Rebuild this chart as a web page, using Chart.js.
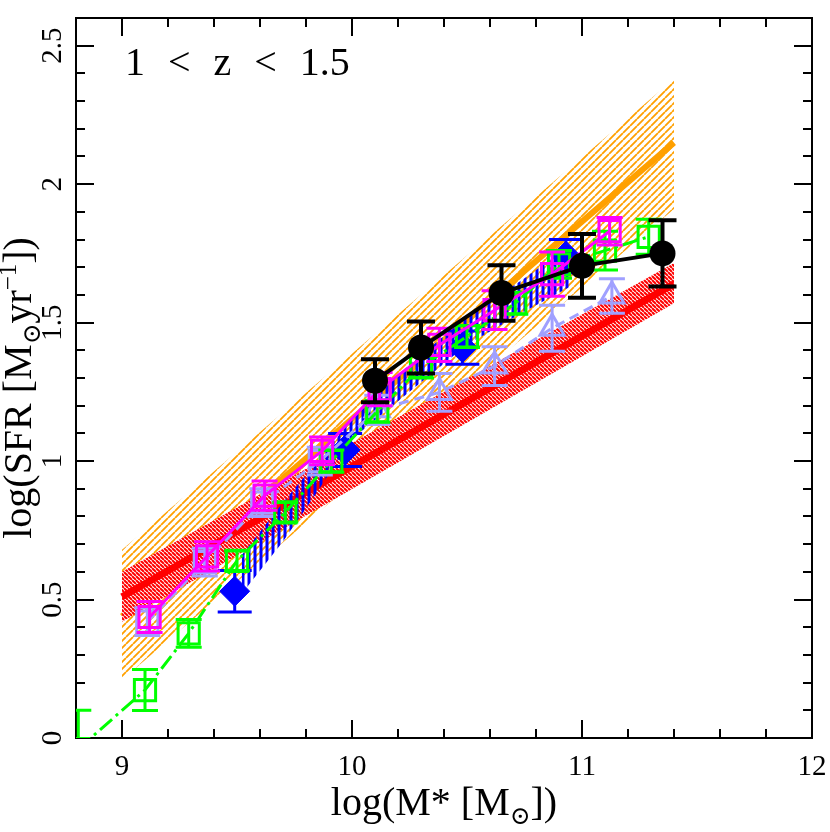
<!DOCTYPE html>
<html>
<head>
<meta charset="utf-8">
<script src="https://cdn.jsdelivr.net/npm/chart.js@4.4.1/dist/chart.umd.min.js"></script>
<style>
  html, body { margin: 0; padding: 0; background: #fff; }
  #wrap { width: 830px; height: 832px; }
</style>
</head>
<body>
<div id="wrap"><canvas id="sfrChart" width="830" height="832"></canvas></div>
<script>
// --- tick labels ---
const xTicks = [9, 10, 11, 12];
const yTicks = [0, 0.5, 1, 1.5, 2, 2.5];

// --- black circles (solid line) ---
const blackMass = [10.10, 10.30, 10.65, 11.00, 11.35];
const blackSfr  = [1.29, 1.41, 1.607, 1.705, 1.75];
const blackErr  = [0.078, 0.094, 0.10, 0.115, 0.12];

// --- magenta squares ---
const magentaMass = [9.12, 9.37, 9.62, 9.87, 10.12, 10.38, 10.62, 10.87, 11.12];
const magentaSfr  = [0.437, 0.656, 0.875, 1.037, 1.26, 1.42, 1.545, 1.675, 1.83];
const magentaErr  = [0.056, 0.053, 0.053, 0.05, 0.06, 0.06, 0.07, 0.08, 0.05];

// --- green squares (dash-dot) ---
const greenMass  = [8.81, 9.10, 9.29, 9.50, 9.71, 9.91, 10.11, 10.30, 10.50, 10.71, 10.90, 11.10, 11.29];
const greenSfr   = [-0.04, 0.173, 0.378, 0.64, 0.815, 1.0, 1.18, 1.34, 1.45, 1.57, 1.71, 1.76, 1.81];
const greenErrLo = [0.0, 0.074, 0.05, 0.035, 0.035, 0.04, 0.04, 0.04, 0.04, 0.04, 0.05, 0.07, 0.063];
const greenErrHi = [0.14, 0.074, 0.05, 0.035, 0.035, 0.04, 0.04, 0.04, 0.04, 0.04, 0.05, 0.07, 0.063];

// --- lavender squares / triangles (dashed) ---
const lavMass = [9.11, 9.36, 9.61, 9.86, 10.11, 10.38, 10.62, 10.87, 11.13];
const lavSfr  = [0.42, 0.635, 0.85, 1.0, 1.185, 1.248, 1.343, 1.48, 1.596];
const lavErr  = [0.05, 0.05, 0.05, 0.05, 0.053, 0.068, 0.07, 0.083, 0.062];

// --- blue diamonds ---
const blueMass = [9.49, 9.97, 10.48, 10.93];
const blueSfr  = [0.53, 1.04, 1.41, 1.74];
const blueErr  = [0.075, 0.06, 0.06, 0.06];

// --- blue vertical-hatched band ---
const blueBandMass = [9.52, 9.70, 9.85, 10.00, 10.25, 10.50, 10.75, 10.95];
const blueBandLow  = [0.52, 0.71, 0.89, 1.08, 1.25, 1.42, 1.54, 1.63];
const blueBandHigh = [0.66, 0.85, 1.00, 1.15, 1.35, 1.52, 1.66, 1.78];

// --- red relation and band ---
const redMass = [9.0, 11.4];
const redMid  = [0.51, 1.64];
const redLow  = [0.42, 1.57];
const redHigh = [0.60, 1.715];

// --- orange relation and band ---
const orangeMass = [9.0, 11.4];
const orangeMid  = [0.44, 2.15];
const orangeLow  = [0.21, 1.91];
const orangeHigh = [0.68, 2.38];

const FONT = "'Liberation Serif', 'DejaVu Serif', serif";

function pts(xs, ys) {
    return xs.map(function(x, i) { return { x: x, y: ys[i] }; });
}

// hatch pattern tile
function hatch(color, size, lw, dir, bg) {
    const c = document.createElement('canvas');
    c.width = size; c.height = size;
    const g = c.getContext('2d');
    if (bg) { g.fillStyle = bg; g.fillRect(0, 0, size, size); }
    g.strokeStyle = color;
    g.lineWidth = lw;
    g.beginPath();
    for (let k = -1; k <= 1; k++) {
        if (dir === '/') { g.moveTo(k * size, size); g.lineTo(k * size + size, 0); }
        else if (dir === '\\') { g.moveTo(k * size, 0); g.lineTo(k * size + size, size); }
    }
    if (dir === '|') { g.moveTo(size / 2, 0); g.lineTo(size / 2, size); }
    g.stroke();
    return g.createPattern(c, 'repeat');
}

const orangeHatch = hatch('#ffa000', 7, 1.8, '/', null);
const redHatch = hatch('#ff0000', 4, 2, '\\', '#ffffff');
const blueHatch = hatch('#0000ff', 6, 3, '|', null);

// error bars drawn right after each dataset
const errorBars = {
    id: 'errorBars',
    afterDatasetDraw(chart, args) {
        const ds = chart.data.datasets[args.index];
        if (!ds.errHi) return;
        const ctx = chart.ctx;
        const yScale = chart.scales.y;
        const area = chart.chartArea;
        ctx.save();
        ctx.beginPath();
        ctx.rect(area.left, area.top, area.right - area.left, area.bottom - area.top);
        ctx.clip();
        ctx.strokeStyle = ds.errColor;
        ctx.lineWidth = ds.errWidth;
        args.meta.data.forEach(function(pt, i) {
            const v = ds.data[i].y;
            const lo = ds.errLo ? ds.errLo[i] : ds.errHi[i];
            const hi = ds.errHi[i];
            const yTop = yScale.getPixelForValue(v + hi);
            const yBot = yScale.getPixelForValue(v - lo);
            const h = ds.capHalf;
            ctx.beginPath();
            ctx.moveTo(pt.x, yTop); ctx.lineTo(pt.x, yBot);
            if (hi > 0) { ctx.moveTo(pt.x - h, yTop); ctx.lineTo(pt.x + h, yTop); }
            if (lo > 0) { ctx.moveTo(pt.x - h, yBot); ctx.lineTo(pt.x + h, yBot); }
            ctx.stroke();
        });
        ctx.restore();
    }
};

function drawRich(ctx, parts, cx, cy, rot, size) {
    ctx.save();
    ctx.translate(cx, cy);
    ctx.rotate(rot);
    let total = 0;
    parts.forEach(function(p) {
        ctx.font = (p.s ? size * 0.62 : size) + 'px ' + FONT;
        p.w = ctx.measureText(p.t).width;
        total += p.w;
    });
    let x = -total / 2;
    ctx.textAlign = 'left';
    ctx.textBaseline = 'alphabetic';
    ctx.fillStyle = '#000';
    parts.forEach(function(p) {
        ctx.font = (p.s ? size * 0.62 : size) + 'px ' + FONT;
        const dy = p.s === 'sub' ? size * 0.22 : (p.s === 'sup' ? -size * 0.38 : 0);
        ctx.fillText(p.t, x, dy);
        x += p.w;
    });
    ctx.restore();
}

// frame and inward ticks under the data, labels on top
const frame = {
    id: 'frame',
    beforeDatasetsDraw(chart) {
        const ctx = chart.ctx;
        const a = chart.chartArea;
        const xs = chart.scales.x, ys = chart.scales.y;
        ctx.save();
        ctx.strokeStyle = '#000';
        ctx.lineWidth = 2;
        ctx.strokeRect(a.left, a.top, a.right - a.left, a.bottom - a.top);
        ctx.beginPath();
        for (let v = xs.min; v <= xs.max + 1e-6; v += 0.2) {
            const major = Math.abs(v - Math.round(v)) < 1e-6;
            const len = major ? 18 : 9;
            const px = Math.round(xs.getPixelForValue(v));
            ctx.moveTo(px, a.bottom); ctx.lineTo(px, a.bottom - len);
            ctx.moveTo(px, a.top); ctx.lineTo(px, a.top + len);
        }
        for (let v = ys.min; v <= ys.max + 1e-6; v += 0.1) {
            const major = Math.abs(v * 2 - Math.round(v * 2)) < 1e-6;
            const len = major ? 18 : 9;
            const py = Math.round(ys.getPixelForValue(v));
            ctx.moveTo(a.left, py); ctx.lineTo(a.left + len, py);
            ctx.moveTo(a.right, py); ctx.lineTo(a.right - len, py);
        }
        ctx.stroke();
        ctx.restore();
    },
    afterDraw(chart) {
        const ctx = chart.ctx;
        const a = chart.chartArea;
        ctx.save();
        ctx.font = '40px ' + FONT;
        ctx.fillStyle = '#000';
        ctx.textBaseline = 'alphabetic';
        ctx.textAlign = 'left';
        let tx = a.left + 49;
        ['1', '<', 'z', '<', '1.5'].forEach(function(t) {
            ctx.fillText(t, tx, a.top + 57);
            tx += ctx.measureText(t).width + 23;
        });
        ctx.restore();

        drawRich(ctx, [{ t: 'log(M* [M' }, { t: '\u2299', s: 'sub' }, { t: '])' }],
            (a.left + a.right) / 2, 815, 0, 40);
        drawRich(ctx, [{ t: 'log(SFR [M' }, { t: '\u2299', s: 'sub' }, { t: 'yr' }, { t: '\u22121', s: 'sup' }, { t: '])' }],
            31, (a.top + a.bottom) / 2 + 10, -Math.PI / 2, 40);
    }
};

const canvas = document.getElementById('sfrChart');
new Chart(canvas.getContext('2d'), {
    type: 'scatter',
    data: {
        datasets: [
            {   // black circles
                data: pts(blackMass, blackSfr), showLine: true,
                borderColor: '#000', borderWidth: 4,
                pointStyle: 'circle', pointRadius: 13, pointBackgroundColor: '#000', pointBorderWidth: 0,
                errHi: blackErr, errColor: '#000', errWidth: 4, capHalf: 14, clip: 0
            },
            {   // magenta squares
                data: pts(magentaMass, magentaSfr), showLine: true,
                borderColor: '#ff00ff', borderWidth: 3,
                pointStyle: 'rect', pointRadius: 15, pointBackgroundColor: 'rgba(0,0,0,0)',
                pointBorderColor: '#ff00ff', pointBorderWidth: 3,
                errHi: magentaErr, errColor: '#ff00ff', errWidth: 3, capHalf: 13, clip: 0
            },
            {   // green squares
                data: pts(greenMass, greenSfr), showLine: true,
                borderColor: '#00ff00', borderWidth: 3, borderDash: [16, 5, 3, 5],
                pointStyle: 'rect', pointRadius: 15, pointBackgroundColor: 'rgba(0,0,0,0)',
                pointBorderColor: '#00ff00', pointBorderWidth: 3,
                errHi: greenErrHi, errLo: greenErrLo, errColor: '#00ff00', errWidth: 3, capHalf: 13, clip: 0
            },
            {   // lavender
                data: pts(lavMass, lavSfr), showLine: true,
                borderColor: '#a0a0ff', borderWidth: 3, borderDash: [10, 6],
                pointStyle: function(c) { return c.dataIndex < 4 ? 'rect' : 'triangle'; },
                pointRadius: function(c) { return c.dataIndex < 4 ? 15 : 14; },
                pointBackgroundColor: 'rgba(0,0,0,0)',
                pointBorderColor: '#a0a0ff', pointBorderWidth: 3,
                errHi: lavErr, errColor: '#a0a0ff', errWidth: 3, capHalf: 13, clip: 0
            },
            {   // blue diamonds
                data: pts(blueMass, blueSfr), showLine: false,
                pointStyle: 'rectRot', pointRadius: 15, pointBackgroundColor: '#0000ff',
                pointBorderColor: '#0000ff', pointBorderWidth: 1,
                errHi: blueErr, errColor: '#0000ff', errWidth: 3, capHalf: 17, clip: 0
            },
            {   // blue band upper
                data: pts(blueBandMass, blueBandHigh), showLine: true,
                borderWidth: 0, pointRadius: 0, clip: 0
            },
            {   // blue band lower
                data: pts(blueBandMass, blueBandLow), showLine: true,
                borderWidth: 0, pointRadius: 0, fill: '-1', backgroundColor: blueHatch, clip: 0
            },
            {   // red line
                data: pts(redMass, redMid), showLine: true,
                borderColor: '#ff0000', borderWidth: 7, pointRadius: 0, clip: 0
            },
            {   // red band upper
                data: pts(redMass, redHigh), showLine: true,
                borderWidth: 0, pointRadius: 0, clip: 0
            },
            {   // red band lower
                data: pts(redMass, redLow), showLine: true,
                borderWidth: 0, pointRadius: 0, fill: '-1', backgroundColor: redHatch, clip: 0
            },
            {   // orange line
                data: pts(orangeMass, orangeMid), showLine: true,
                borderColor: '#ffa000', borderWidth: 6, pointRadius: 0, clip: 0
            },
            {   // orange band upper
                data: pts(orangeMass, orangeHigh), showLine: true,
                borderWidth: 0, pointRadius: 0, clip: 0
            },
            {   // orange band lower
                data: pts(orangeMass, orangeLow), showLine: true,
                borderWidth: 0, pointRadius: 0, fill: '-1', backgroundColor: orangeHatch, clip: 0
            }
        ]
    },
    options: {
        responsive: false,
        animation: false,
        devicePixelRatio: 1,
        events: [],
        layout: { padding: { top: 1, right: 17, left: 0, bottom: 0 } },
        plugins: {
            legend: { display: false },
            tooltip: { enabled: false }
        },
        scales: {
            x: {
                type: 'linear', min: 8.8, max: 12,
                afterBuildTicks: function(s) { s.ticks = xTicks.map(function(v) { return { value: v }; }); },
                afterFit: function(s) { s.height = 94; s.paddingLeft = 0; s.paddingRight = 0; },
                grid: { display: false, drawTicks: false },
                border: { display: false },
                ticks: {
                    color: '#000', padding: 12,
                    font: { family: FONT, size: 29 },
                    callback: function(v) { return String(v); }
                }
            },
            y: {
                type: 'linear', min: 0, max: 2.6,
                afterBuildTicks: function(s) { s.ticks = yTicks.map(function(v) { return { value: v }; }); },
                afterFit: function(s) { s.width = 76; s.paddingTop = 0; s.paddingBottom = 0; },
                grid: { display: false, drawTicks: false },
                border: { display: false },
                ticks: {
                    color: '#000', padding: 4,
                    minRotation: 90, maxRotation: 90, crossAlign: 'center',
                    font: { family: FONT, size: 29 },
                    callback: function(v) { return String(v); }
                }
            }
        }
    },
    plugins: [errorBars, frame]
});
</script>
</body>
</html>
